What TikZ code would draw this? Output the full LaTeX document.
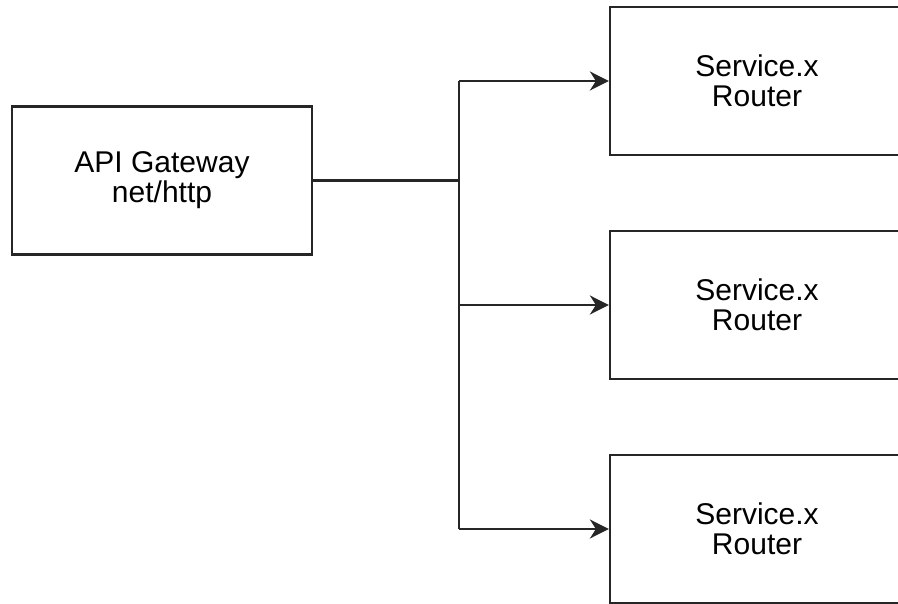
\documentclass[tikz,border=0pt]{standalone}
\usepackage{fontspec}
\setmainfont{Liberation Sans}
\usetikzlibrary{arrows.meta}
\begin{document}
\begin{tikzpicture}[x=1pt,y=1pt,
  box/.style={draw=black!85, line width=2.2pt, rectangle, inner sep=0pt, align=center,
    font=\fontsize{30}{30}\selectfont},
  conn/.style={draw=black!85, line width=2.2pt},
  arr/.style={conn, -{Stealth[length=19pt,width=19pt,inset=6pt]}}]
\useasboundingbox (0,0) rectangle (898,-604);
\clip (0,0) rectangle (898,-604);
\fill[white] (0,0) rectangle (898,-604);
\node[box, minimum width=300pt, minimum height=148pt] (gw) at (162,-180.5) {\raisebox{-3pt}{API Gateway}\\\raisebox{-3pt}{net/http}};
\node[box, minimum width=294pt, minimum height=148pt] (s1) at (757,-81) {Service.x\\Router};
\node[box, minimum width=294pt, minimum height=148pt] (s2) at (757,-305) {Service.x\\Router};
\node[box, minimum width=294pt, minimum height=148pt] (s3) at (757,-529) {Service.x\\Router};
\coordinate (j) at (459,-180.5);
\coordinate (jt) at (459,-81);
\coordinate (jb) at (459,-529);
\draw[conn] (gw.east) -- (j);
\draw[conn] (jt) -- (jb);
\draw[arr] (jt) -- (s1.west);
\draw[arr] (j |- s2.west) -- (s2.west);
\draw[arr] (jb) -- (s3.west);
\end{tikzpicture}
\end{document}
